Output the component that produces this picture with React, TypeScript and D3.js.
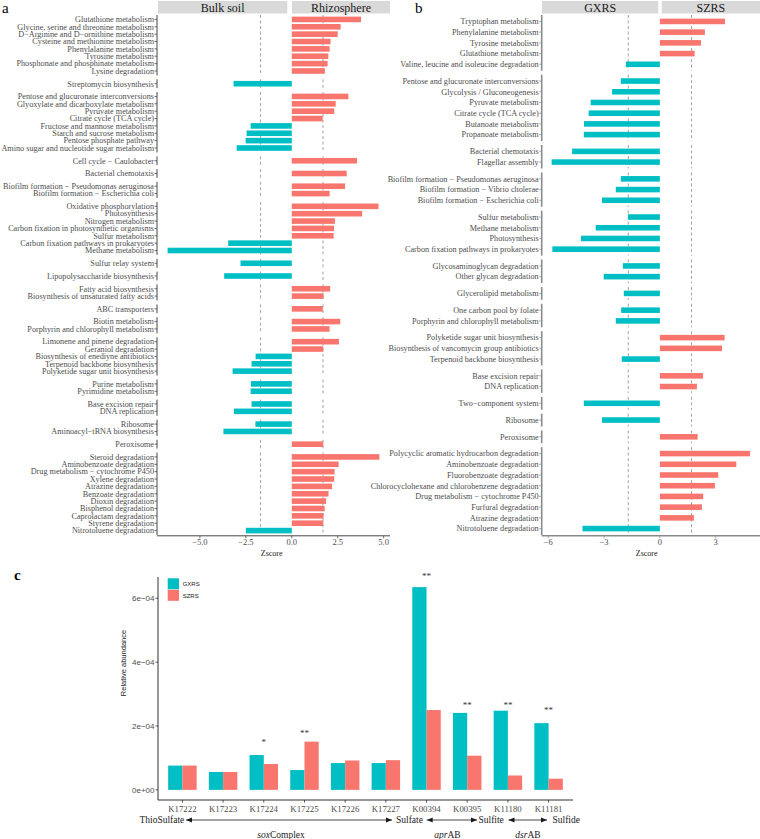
import React from 'react';
import * as d3 from 'd3';

const SERIF = '"Liberation Serif","Times New Roman",serif';
const SANS = '"Liberation Sans",Arial,sans-serif';
const POS = '#F8766D';
const NEG = '#00BFC4';
const GREY_TEXT = '#4D4D4D';
const M = '\u2212';

// ---------- Panel a ----------
const aGroupSizes = [8, 1, 8, 1, 1, 2, 7, 1, 1, 2, 1, 2, 5, 2, 2, 2, 1, 11];
const aPathways = [
  'Glutathione metabolism', 'Glycine, serine and threonine metabolism', `D${M}Arginine and D${M}ornithine metabolism`,
  'Cysteine and methionine metabolism', 'Phenylalanine metabolism', 'Tyrosine metabolism',
  'Phosphonate and phosphinate metabolism', 'Lysine degradation',
  'Streptomycin biosynthesis',
  'Pentose and glucuronate interconversions', 'Glyoxylate and dicarboxylate metabolism', 'Pyruvate metabolism',
  'Citrate cycle (TCA cycle)', 'Fructose and mannose metabolism', 'Starch and sucrose metabolism',
  'Pentose phosphate pathway', 'Amino sugar and nucleotide sugar metabolism',
  `Cell cycle ${M} Caulobacter`,
  'Bacterial chemotaxis',
  `Biofilm formation ${M} Pseudomonas aeruginosa`, `Biofilm formation ${M} Escherichia coli`,
  'Oxidative phosphorylation', 'Photosynthesis', 'Nitrogen metabolism', 'Carbon fixation in photosynthetic organisms',
  'Sulfur metabolism', 'Carbon fixation pathways in prokaryotes', 'Methane metabolism',
  'Sulfur relay system',
  'Lipopolysaccharide biosynthesis',
  'Fatty acid biosynthesis', 'Biosynthesis of unsaturated fatty acids',
  'ABC transporters',
  'Biotin metabolism', 'Porphyrin and chlorophyll metabolism',
  'Limonene and pinene degradation', 'Geraniol degradation', 'Biosynthesis of enediyne antibiotics',
  'Terpenoid backbone biosynthesis', 'Polyketide sugar unit biosynthesis',
  'Purine metabolism', 'Pyrimidine metabolism',
  'Base excision repair', 'DNA replication',
  'Ribosome', `Aminoacyl${M}tRNA biosynthesis`,
  'Peroxisome',
  'Steroid degradation', 'Aminobenzoate degradation', `Drug metabolism ${M} cytochrome P450`, 'Xylene degradation',
  'Atrazine degradation', 'Benzoate degradation', 'Dioxin degradation', 'Bisphenol degradation',
  'Caprolactam degradation', 'Styrene degradation', 'Nitrotoluene degradation',
];
const aZ = [
  3.77, 2.66, 2.5, 2.11, 2.06, 1.99, 1.95, 1.8,
  -3.17,
  3.08, 2.39, 2.31, 1.68, -2.24, -2.46, -2.51, -3.0,
  3.55,
  2.99,
  2.9, 2.06,
  4.72, 3.83, 2.35, 2.3, 2.28, -3.46, -6.76,
  -2.79,
  -3.68,
  2.09, 1.73,
  1.69,
  2.64, 2.06,
  2.57, 1.71, -1.97, -2.19, -3.22,
  -2.22, -2.24,
  -2.19, -3.15,
  -1.98, -3.72,
  1.71,
  4.77, 2.55, 2.33, 2.31, 2.19, 2.0, 1.87, 1.79, 1.73, 1.71, -2.5,
];
const aStrips = ['Bulk soil', 'Rhizosphere'];
const aTicks = [-5, -2.5, 0, 2.5, 5];

// ---------- Panel b ----------
const bGroupSizes = [5, 6, 2, 3, 4, 2, 1, 2, 3, 2, 1, 1, 1, 8];
const bPathways = [
  'Tryptophan metabolism', 'Phenylalanine metabolism', 'Tyrosine metabolism', 'Glutathione metabolism',
  'Valine, leucine and isoleucine degradation',
  'Pentose and glucuronate interconversions', 'Glycolysis / Gluconeogenesis', 'Pyruvate metabolism',
  'Citrate cycle (TCA cycle)', 'Butanoate metabolism', 'Propanoate metabolism',
  'Bacterial chemotaxis', 'Flagellar assembly',
  `Biofilm formation ${M} Pseudomonas aeruginosa`, `Biofilm formation ${M} Vibrio cholerae`, `Biofilm formation ${M} Escherichia coli`,
  'Sulfur metabolism', 'Methane metabolism', 'Photosynthesis', 'Carbon fixation pathways in prokaryotes',
  'Glycosaminoglycan degradation', 'Other glycan degradation',
  'Glycerolipid metabolism',
  'One carbon pool by folate', 'Porphyrin and chlorophyll metabolism',
  'Polyketide sugar unit biosynthesis', 'Biosynthesis of vancomycin group antibiotics', 'Terpenoid backbone biosynthesis',
  'Base excision repair', 'DNA replication',
  `Two${M}component system`,
  'Ribosome',
  'Peroxisome',
  'Polycyclic aromatic hydrocarbon degradation', 'Aminobenzoate degradation', 'Fluorobenzoate degradation',
  'Chlorocyclohexane and chlorobenzene degradation', `Drug metabolism ${M} cytochrome P450`, 'Furfural degradation',
  'Atrazine degradation', 'Nitrotoluene degradation',
];
const bZ = [
  3.5, 2.42, 2.21, 1.87, -1.83,
  -2.1, -2.57, -3.72, -3.83, -4.08, -4.09,
  -4.72, -5.82,
  -2.1, -2.37, -3.11,
  -1.71, -3.45, -4.24, -5.78,
  -1.99, -3.02,
  -1.94,
  -2.08, -2.37,
  3.48, 3.34, -2.05,
  2.32, 1.99,
  -4.09,
  -3.11,
  2.03,
  4.85, 4.11, 3.14, 2.96, 2.33, 2.26, 1.83, -4.16,
];
const bStrips = ['GXRS', 'SZRS'];
const bTicks = [-6, -3, 0, 3];
const zThreshold = 1.7;

// ---------- Panel c ----------
const cGenes = ['K17222', 'K17223', 'K17224', 'K17225', 'K17226', 'K17227', 'K00394', 'K00395', 'K11180', 'K11181'];
const cSeries = ['GXRS', 'SZRS'];
const cGXRS = [0.76, 0.56, 1.09, 0.62, 0.84, 0.84, 6.35, 2.41, 2.48, 2.09]; // x 1e-4
const cSZRS = [0.76, 0.56, 0.81, 1.51, 0.92, 0.93, 2.5, 1.07, 0.45, 0.35]; // x 1e-4
const cSig = ['', '', '*', '**', '', '', '**', '**', '**', '**'];
const cSigPos = [0, 0, 1.56, 1.82, 0, 0, 6.75, 2.71, 2.71, 2.54]; // x 1e-4
const cYTicks = [0, 2, 4, 6];

function fmtZ(v: number, decimals: number) {
  const s = Math.abs(v).toFixed(decimals);
  return v < 0 ? M + s : s;
}

type ZProps = {
  groupSizes: number[];
  labels: string[];
  values: number[];
  left: number;
  right: number;
  top: number;
  bottom: number;
  barFrac: number;
  ticks: number[];
  decimals: number;
  strips: string[];
  stripBounds: [number, number][];
  axisColor: string;
  axisWidth: number;
  titleX: number;
};

function ZPanel(p: ZProps) {
  const ext = d3.extent(p.values) as [number, number];
  const pad = (ext[1] - ext[0]) * 0.05;
  const x = d3.scaleLinear().domain([ext[0] - pad, ext[1] + pad]).range([p.left, p.right]);
  const spacing = 3.9;
  const N = p.labels.length;
  const G = p.groupSizes.length;
  const u = (p.bottom - p.top - (G - 1) * spacing) / (N + 0.2 * G);
  const groups: { y0: number; y1: number; band: d3.ScaleBand<string>; items: { label: string; value: number }[] }[] = [];
  let idx = 0;
  let cursor = p.top;
  p.groupSizes.forEach((n) => {
    const items = p.labels.slice(idx, idx + n).map((label, k) => ({ label, value: p.values[idx + k] }));
    const y0 = cursor;
    const y1 = cursor + (n + 0.2) * u;
    const band = d3
      .scaleBand<string>()
      .domain(items.map((d) => d.label))
      .range([y0, y1])
      .paddingInner(1 - p.barFrac)
      .paddingOuter(0.6 - p.barFrac / 2);
    groups.push({ y0, y1, band, items });
    idx += n;
    cursor = y1 + spacing;
  });
  const x0 = x(0);
  return (
    <g>
      {p.strips.map((s, i) => (
        <g key={s}>
          <rect x={p.stripBounds[i][0]} y={1} width={p.stripBounds[i][1] - p.stripBounds[i][0]} height={12.5} fill="#D9D9D9" />
          <text
            x={(p.stripBounds[i][0] + p.stripBounds[i][1]) / 2}
            y={11.6}
            textAnchor="middle"
            fontFamily={SERIF}
            fontSize={12}
            fill="#1A1A1A"
          >
            {s}
          </text>
        </g>
      ))}
      {groups.map((g, gi) => (
        <g key={gi}>
          {[-zThreshold, zThreshold].map((t) => (
            <line key={t} x1={x(t)} x2={x(t)} y1={g.y0} y2={g.y1} stroke="#8C8C8C" strokeWidth={0.8} strokeDasharray="3,2.5" />
          ))}
          {g.items.map((d) => {
            const y = g.band(d.label) as number;
            const xv = x(d.value);
            return (
              <rect
                key={d.label}
                x={Math.min(x0, xv)}
                y={y}
                width={Math.abs(xv - x0)}
                height={g.band.bandwidth()}
                fill={d.value >= 0 ? POS : NEG}
              />
            );
          })}
          <line x1={p.left} x2={p.left} y1={g.y0} y2={g.y1} stroke={p.axisColor} strokeWidth={p.axisWidth} />
          {g.items.map((d) => {
            const yc = (g.band(d.label) as number) + g.band.bandwidth() / 2;
            return (
              <g key={'t' + d.label}>
                <line x1={p.left - 2.5} x2={p.left} y1={yc} y2={yc} stroke={p.axisColor} strokeWidth={0.7} />
                <text x={p.left - 3} y={yc + 2.8} textAnchor="end" fontFamily={SERIF} fontSize={8.2} fill={GREY_TEXT}>
                  {d.label}
                </text>
              </g>
            );
          })}
        </g>
      ))}
      <line x1={p.left} x2={p.right} y1={p.bottom + 0.8} y2={p.bottom + 0.8} stroke={p.axisColor} strokeWidth={p.axisWidth} />
      {p.ticks.map((t) => (
        <g key={t}>
          <line x1={x(t)} x2={x(t)} y1={p.bottom + 0.8} y2={p.bottom + 3.3} stroke={p.axisColor} strokeWidth={0.7} />
          <text x={x(t)} y={p.bottom + 10.3} textAnchor="middle" fontFamily={SERIF} fontSize={8.5} fill={GREY_TEXT}>
            {fmtZ(t, p.decimals)}
          </text>
        </g>
      ))}
      <text x={p.titleX} y={p.bottom + 20.5} textAnchor="middle" fontFamily={SERIF} fontSize={8} fill="#1A1A1A">
        Zscore
      </text>
    </g>
  );
}

function fmtSci(v: number) {
  return v === 0 ? '0e+00' : `${v}e${M}04`;
}

function BarPanel() {
  const left = 158;
  const right = 573;
  const top = 577;
  const bottom = 800;
  const maxV = Math.max(d3.max(cGXRS) as number, d3.max(cSZRS) as number);
  const pad = maxV * 0.05;
  const y = d3.scaleLinear().domain([-pad, maxV + pad]).range([bottom, top]);
  const x = d3.scaleBand<string>().domain(cGenes).range([left, right]).paddingInner(0).paddingOuter(0.1);
  const step = x.bandwidth();
  const sub = d3.scaleBand<string>().domain(cSeries).range([0.15 * step, 0.85 * step]).paddingInner(0);
  const colors = [NEG, POS];
  const series = [cGXRS, cSZRS];
  const arrowY = 820;
  const textY = 823.2;
  return (
    <g>
      {cGenes.map((g, i) => (
        <g key={g}>
          {cSeries.map((s, k) => (
            <rect
              key={s}
              x={(x(g) as number) + (sub(s) as number)}
              y={y(series[k][i])}
              width={sub.bandwidth()}
              height={y(0) - y(series[k][i])}
              fill={colors[k]}
            />
          ))}
          {cSig[i] && (
            <text x={(x(g) as number) + step / 2} y={y(cSigPos[i]) + 4.6} textAnchor="middle" fontFamily={SERIF} fontSize={9} fill="#333">
              {cSig[i]}
            </text>
          )}
        </g>
      ))}
      <line x1={left} x2={left} y1={top} y2={bottom} stroke="#1A1A1A" strokeWidth={0.9} />
      <line x1={left} x2={right} y1={bottom} y2={bottom} stroke="#1A1A1A" strokeWidth={0.9} />
      {cYTicks.map((t) => (
        <g key={t}>
          <line x1={left - 2.5} x2={left} y1={y(t)} y2={y(t)} stroke="#1A1A1A" strokeWidth={0.7} />
          <text x={left - 3.5} y={y(t) + 2.9} textAnchor="end" fontFamily={SANS} fontSize={8} fill={GREY_TEXT}>
            {fmtSci(t)}
          </text>
        </g>
      ))}
      {cGenes.map((g) => {
        const xc = (x(g) as number) + step / 2;
        return (
          <g key={'x' + g}>
            <line x1={xc} x2={xc} y1={bottom} y2={bottom + 2.7} stroke="#1A1A1A" strokeWidth={0.7} />
            <text x={xc} y={bottom + 11.5} textAnchor="middle" fontFamily={SERIF} fontSize={8.8} fill={GREY_TEXT}>
              {g}
            </text>
          </g>
        );
      })}
      <text
        transform={`translate(125.5,663) rotate(-90)`}
        textAnchor="middle"
        fontFamily={SANS}
        fontSize={7.5}
        fill="#1A1A1A"
      >
        Relative abundance
      </text>
      {/* legend */}
      {cSeries.map((s, k) => (
        <g key={'l' + s}>
          <rect x={167.7} y={578.3 + k * 11.5} width={11.3} height={11} fill={colors[k]} />
          <text x={182.7} y={586 + k * 11.5} fontFamily={SANS} fontSize={6} fill="#1A1A1A">
            {s}
          </text>
        </g>
      ))}
      {/* pathway arrows */}
      <defs>
        <marker id="ah" viewBox="0 0 10 10" refX={10} refY={5} markerWidth={6} markerHeight={6} orient="auto-start-reverse" markerUnits="userSpaceOnUse">
          <path d="M0,1 L10,5 L0,9 Z" fill="#1A1A1A" />
        </marker>
      </defs>
      {[
        [186, 392],
        [426.7, 477],
        [508.5, 547],
      ].map(([a, b], i) => (
        <line key={'ar' + i} x1={a} x2={b} y1={arrowY} y2={arrowY} stroke="#1A1A1A" strokeWidth={0.8} markerStart="url(#ah)" markerEnd="url(#ah)" />
      ))}
      <text x={184.3} y={textY} textAnchor="end" fontFamily={SERIF} fontSize={9.5} fill="#1A1A1A">ThioSulfate</text>
      <text x={396} y={textY} fontFamily={SERIF} fontSize={9.5} fill="#1A1A1A">Sulfate</text>
      <text x={478.5} y={textY} fontFamily={SERIF} fontSize={9.5} fill="#1A1A1A">Sulfite</text>
      <text x={552.5} y={textY} fontFamily={SERIF} fontSize={9.5} fill="#1A1A1A">Sulfide</text>
      <text x={281} y={837.5} textAnchor="middle" fontFamily={SERIF} fontSize={9.5} fill="#1A1A1A">
        <tspan fontStyle="italic">sox</tspan>Complex
      </text>
      <text x={447.5} y={837.5} textAnchor="middle" fontFamily={SERIF} fontSize={9.5} fill="#1A1A1A">
        <tspan fontStyle="italic">apr</tspan>AB
      </text>
      <text x={528} y={837.5} textAnchor="middle" fontFamily={SERIF} fontSize={9.5} fill="#1A1A1A">
        <tspan fontStyle="italic">dsr</tspan>AB
      </text>
    </g>
  );
}

export default function App() {
  return (
    <svg width={760} height={839} style={{ position: 'absolute', left: 0, top: 0, display: 'block' }}>
      <rect width={760} height={839} fill="#fff" />
      <text x={2} y={12.5} fontFamily={SERIF} fontSize={15} fill="#000">a</text>
      <text x={415} y={13} fontFamily={SERIF} fontSize={15} fill="#000">b</text>
      <text x={14} y={579.5} fontFamily={SERIF} fontSize={15} fontWeight="bold" fill="#000">c</text>
      <ZPanel
        groupSizes={aGroupSizes}
        labels={aPathways}
        values={aZ}
        left={157}
        right={390}
        top={15}
        bottom={535}
        barFrac={0.76}
        ticks={aTicks}
        decimals={1}
        strips={aStrips}
        stripBounds={[
          [158, 287.3],
          [292, 390],
        ]}
        axisColor="#333333"
        axisWidth={0.9}
        titleX={271.7}
      />
      <ZPanel
        groupSizes={bGroupSizes}
        labels={bPathways}
        values={bZ}
        left={541.7}
        right={760}
        top={15}
        bottom={535}
        barFrac={0.52}
        ticks={bTicks}
        decimals={0}
        strips={bStrips}
        stripBounds={[
          [542, 658.3],
          [661.7, 760],
        ]}
        axisColor="#8A8A8A"
        axisWidth={1.6}
        titleX={646.7}
      />
      <BarPanel />
    </svg>
  );
}
